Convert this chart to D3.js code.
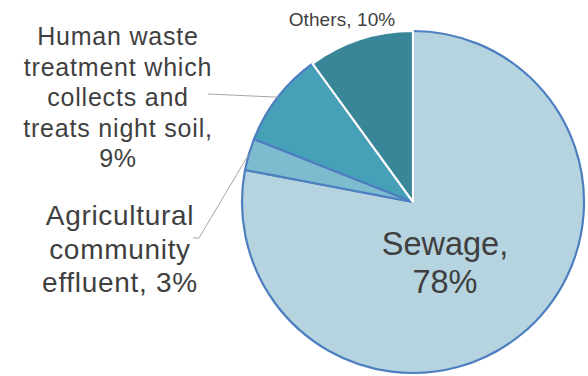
<!DOCTYPE html>
<html>
<head>
<meta charset="utf-8">
<script src="https://cdn.jsdelivr.net/npm/d3@7"></script>
<style>
  html, body { margin: 0; padding: 0; background: #fff; }
  svg { display: block; font-family: "Liberation Sans", Arial, sans-serif; }
</style>
</head>
<body>
<svg id="chart" width="588" height="376"></svg>
<script>
// Sources of treated water, share in percent (clockwise from 12 o'clock)
const categories = ["Sewage", "Agricultural community effluent", "Human waste treatment which collects and treats night soil", "Others"];
const shares = [78, 3, 9, 10];
const fills = ["#b6d4df", "#7dbbcf", "#46a0b8", "#388698"];
const strokes = ["#4d7fc0", "#4d7fc0", "#4d7fc0", "#ffffff"];

const svg = d3.select("#chart");
const cx = 413, cy = 202, r = 171;

const pie = d3.pie().sort(null).value(d => d.v).startAngle(0).endAngle(2 * Math.PI);
const arcs = pie(categories.map((c, i) => ({ name: c, v: shares[i], i })));
const arc = d3.arc().innerRadius(0).outerRadius(r);

const g = svg.append("g").attr("transform", `translate(${cx},${cy})`);
g.selectAll("path.slice")
  .data(arcs)
  .join("path")
  .attr("class", "slice")
  .attr("d", arc)
  .attr("fill", d => fills[d.data.i])
  .attr("stroke", d => strokes[d.data.i])
  .attr("stroke-width", 2.2)
  .attr("stroke-linejoin", "round");

// point on the rim at the middle of a slice
function rimMid(d) {
  const a = (d.startAngle + d.endAngle) / 2;
  return [cx + r * Math.sin(a), cy - r * Math.cos(a)];
}

const textColor = "#3f3f3f";
const lineColor = "#a6a6a6";

// leader lines
const [hx, hy] = rimMid(arcs[2]);
svg.append("path")
  .attr("d", `M208,94L${hx},${hy}`)
  .attr("fill", "none").attr("stroke", lineColor).attr("stroke-width", 1);
const [ax, ay] = rimMid(arcs[1]);
svg.append("path")
  .attr("d", `M193,238L199,238L${ax},${ay}`)
  .attr("fill", "none").attr("stroke", lineColor).attr("stroke-width", 1);

function label(lines, x, y0, lh, size, ls) {
  const t = svg.append("text")
    .attr("text-anchor", "middle")
    .attr("fill", textColor)
    .attr("font-size", size)
    .attr("letter-spacing", ls);
  lines.forEach((s, k) => {
    t.append("tspan").attr("x", x).attr("y", y0 + k * lh).text(s);
  });
}

label([`Sewage,`, `${shares[0]}%`], 445, 255, 38, 32.5, 0);
label(["Agricultural", "community", `effluent, ${shares[1]}%`], 120, 225, 33.5, 28, 0.7);
label(["Human waste", "treatment which", "collects and", "treats night soil,", `${shares[2]}%`], 118, 45, 30.5, 25, 0.8);
label([`Others, ${shares[3]}%`], 342, 26, 0, 19, 0.1);
</script>
</body>
</html>
